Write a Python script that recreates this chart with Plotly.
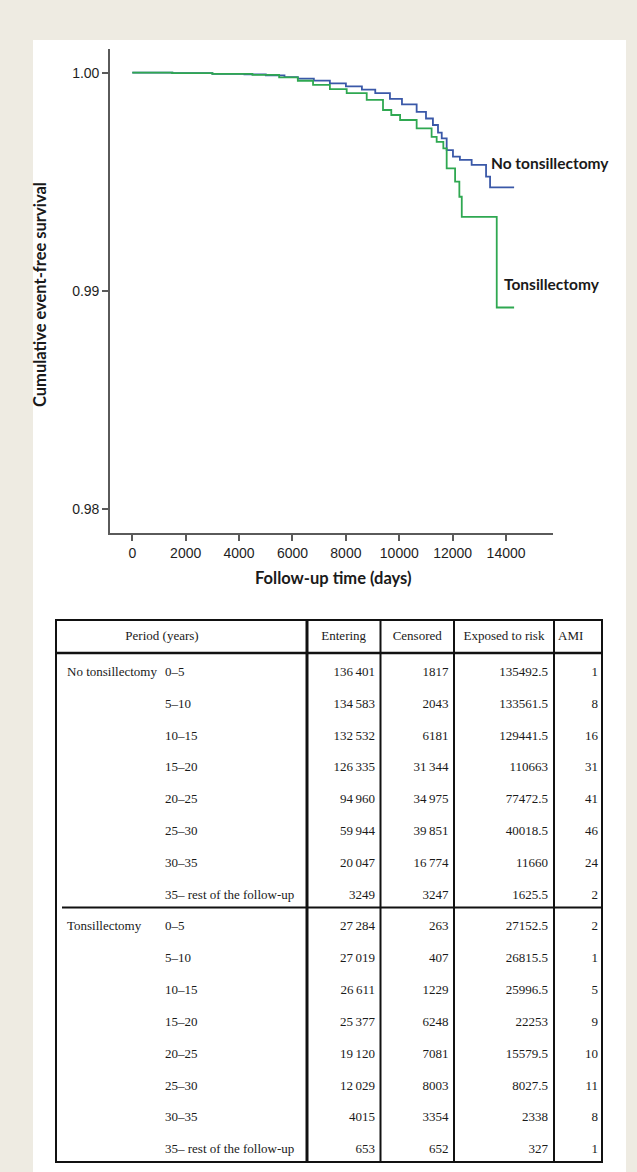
import plotly.graph_objects as go

# ---------------- Kaplan-Meier data ----------------
no_tons_days = [0, 1500, 3000, 4200, 5000, 5700, 6200, 6800, 7400, 8000, 8600, 9100, 9650,
                10100, 10650, 11000, 11260, 11450, 11590, 11775, 12010, 12270, 12710, 13250,
                13400, 14300]
no_tons_surv = [1.0, 0.99998, 0.99995, 0.99992, 0.99988, 0.99980, 0.99973, 0.99964, 0.99951,
                0.99937, 0.99922, 0.99906, 0.99880, 0.99855, 0.99820, 0.99790, 0.99760, 0.99725,
                0.99699, 0.99645, 0.99615, 0.99600, 0.99577, 0.99523, 0.99474, 0.99474]

tons_days = [0, 1500, 3000, 4500, 5500, 6200, 6770, 7400, 8030, 8780, 9390, 9700, 10030,
             10650, 11210, 11400, 11650, 11775, 12090, 12250, 12340, 13650, 14300]
tons_surv = [1.0, 0.99998, 0.99995, 0.99990, 0.99979, 0.99963, 0.99944, 0.99925, 0.99906,
             0.99875, 0.99829, 0.99806, 0.99783, 0.99745, 0.99706, 0.99683, 0.99653, 0.99561,
             0.99500, 0.99431, 0.99339, 0.98923, 0.98923]

x_ticks = [0, 2000, 4000, 6000, 8000, 10000, 12000, 14000]
x_ticklabels = ["0", "2000", "4000", "6000", "8000", "10000", "12000", "14000"]
y_ticks = [0.98, 0.99, 1.00]
y_ticklabels = ["0.98", "0.99", "1.00"]

# ---------------- Table data ----------------
groups = ["No tonsillectomy", "Tonsillectomy"]
periods = ["0\u20135", "5\u201310", "10\u201315", "15\u201320", "20\u201325", "25\u201330",
           "30\u201335", "35\u2013 rest of the follow-up"]
headers = ["Period (years)", "Entering", "Censored", "Exposed to risk", "AMI"]

entering_no = [136401, 134583, 132532, 126335, 94960, 59944, 20047, 3249]
censored_no = [1817, 2043, 6181, 31344, 34975, 39851, 16774, 3247]
exposed_no = [135492.5, 133561.5, 129441.5, 110663, 77472.5, 40018.5, 11660, 1625.5]
ami_no = [1, 8, 16, 31, 41, 46, 24, 2]

entering_t = [27284, 27019, 26611, 25377, 19120, 12029, 4015, 653]
censored_t = [263, 407, 1229, 6248, 7081, 8003, 3354, 652]
exposed_t = [27152.5, 26815.5, 25996.5, 22253, 15579.5, 8027.5, 2338, 327]
ami_t = [2, 1, 5, 9, 10, 11, 8, 1]


def fmt_count(n):
    return f"{n:,}".replace(",", "\u2009") if n >= 10000 else str(n)


def fmt_exposed(v):
    return str(int(v)) if float(v).is_integer() else f"{v:.1f}"


W, H = 637, 1172
BLUE = "#3A58A8"
GREEN = "#2FA851"
AXIS = "#5a5a5a"

fig = go.Figure()

fig.add_trace(go.Scatter(x=no_tons_days, y=no_tons_surv, mode="lines",
                         line=dict(shape="hv", color=BLUE, width=1.8),
                         showlegend=False, hoverinfo="skip"))
fig.add_trace(go.Scatter(x=tons_days, y=tons_surv, mode="lines",
                         line=dict(shape="hv", color=GREEN, width=1.8),
                         showlegend=False, hoverinfo="skip"))

# ---------------- Table drawn on an overlay pixel-like axis ----------------
L, R = 56, 602
T, HB, B = 620, 653, 1162
col_seps = [307, 380.5, 454, 554]
n_rows = len(periods) * 2
row_h = (B - HB) / n_rows
row_y = [HB + (0.62 + i) * row_h for i in range(n_rows)]
group_sep = HB + len(periods) * row_h
head_y = (T + HB) / 2

serif = dict(family="Liberation Serif, Times New Roman, serif", size=13, color="#1a1a1a")

fig.add_trace(go.Scatter(
    x=[162, 343.7, 417.2, 504], y=[head_y] * 4, text=headers[:4], mode="text",
    textposition="middle center", textfont=serif, xaxis="x2", yaxis="y2",
    showlegend=False, hoverinfo="skip"))
fig.add_trace(go.Scatter(
    x=[558], y=[head_y], text=[headers[4]], mode="text",
    textposition="middle right", textfont=serif, xaxis="x2", yaxis="y2",
    showlegend=False, hoverinfo="skip"))

fig.add_trace(go.Scatter(
    x=[67, 67], y=[row_y[0], row_y[len(periods)]], text=groups, mode="text",
    textposition="middle right", textfont=serif, xaxis="x2", yaxis="y2",
    showlegend=False, hoverinfo="skip"))
fig.add_trace(go.Scatter(
    x=[165] * n_rows, y=row_y, text=periods + periods, mode="text",
    textposition="middle right", textfont=serif, xaxis="x2", yaxis="y2",
    showlegend=False, hoverinfo="skip"))

num_cols = [
    ([fmt_count(v) for v in entering_no + entering_t], 375),
    ([fmt_count(v) for v in censored_no + censored_t], 448.5),
    ([fmt_exposed(v) for v in exposed_no + exposed_t], 548),
    ([str(v) for v in ami_no + ami_t], 598),
]
for texts, xr in num_cols:
    fig.add_trace(go.Scatter(
        x=[xr] * n_rows, y=row_y, text=texts, mode="text",
        textposition="middle left", textfont=serif, xaxis="x2", yaxis="y2",
        showlegend=False, hoverinfo="skip"))

shapes = [
    dict(type="rect", xref="paper", yref="paper", x0=33 / W, x1=626 / W, y0=0, y1=1 - 40 / H,
         fillcolor="white", line=dict(width=0), layer="below"),
    dict(type="rect", xref="x2", yref="y2", x0=L, x1=R, y0=T, y1=B,
         line=dict(color="#111", width=2), layer="above"),
    dict(type="line", xref="x2", yref="y2", x0=L, x1=R, y0=HB, y1=HB,
         line=dict(color="#111", width=2.5), layer="above"),
    dict(type="line", xref="x2", yref="y2", x0=L + 6, x1=R, y0=group_sep, y1=group_sep,
         line=dict(color="#111", width=2), layer="above"),
]
for i, cx in enumerate(col_seps):
    shapes.append(dict(type="line", xref="x2", yref="y2", x0=cx, x1=cx, y0=T, y1=B,
                       line=dict(color="#111", width=3 if i == 0 else 2), layer="above"))

bold = dict(family="Lato, Open Sans, sans-serif", size=16.5, color="#1a1a1a", weight="bold")
label_font = dict(family="Lato, Open Sans, sans-serif", size=15.5, color="#1a1a1a",
                  weight="bold")
annotations = [
    dict(text="Cumulative event-free survival", xref="paper", yref="paper",
         x=40 / W, y=1 - 295 / H, textangle=-90, showarrow=False,
         xanchor="center", yanchor="middle", font=bold),
    dict(text="Follow-up time (days)", xref="paper", yref="paper",
         x=333 / W, y=1 - 578 / H, showarrow=False, xanchor="center", yanchor="middle",
         font=bold),
    dict(text="No tonsillectomy", xref="x", yref="y", x=13360, y=0.99586,
         showarrow=False, xanchor="left", yanchor="middle", font=label_font),
    dict(text="Tonsillectomy", xref="x", yref="y", x=13846, y=0.99031,
         showarrow=False, xanchor="left", yanchor="middle", font=label_font),
]

tickfont = dict(family="Liberation Sans, Arial, sans-serif", size=14, color="#1e1e1e")

fig.update_layout(
    width=W, height=H,
    margin=dict(l=0, r=0, t=0, b=0),
    paper_bgcolor="#EEEBE2",
    plot_bgcolor="rgba(0,0,0,0)",
    showlegend=False,
    shapes=shapes,
    annotations=annotations,
    xaxis=dict(domain=[110 / W, 553 / W], range=[-835, 15757], tickvals=x_ticks,
               ticktext=x_ticklabels,
               showline=True, linecolor=AXIS, linewidth=1.6, ticks="outside", ticklen=6,
               tickwidth=1.6, tickcolor=AXIS, showgrid=False, zeroline=False,
               tickfont=tickfont, anchor="y", fixedrange=True),
    yaxis=dict(domain=[1 - 533.3 / H, 1 - 49 / H], range=[0.978872, 1.001087],
               tickvals=y_ticks, ticktext=y_ticklabels,
               showline=True, linecolor=AXIS, linewidth=1.6, ticks="outside", ticklen=6,
               tickwidth=1.6, tickcolor=AXIS, showgrid=False, zeroline=False,
               tickfont=tickfont, anchor="x", fixedrange=True),
    xaxis2=dict(domain=[0, 1], range=[0, W], visible=False, anchor="y2", fixedrange=True),
    yaxis2=dict(domain=[0, 1], range=[H, 0], visible=False, anchor="x2", fixedrange=True),
)

fig.write_html("out.html", config={"displayModeBar": False},
               post_script="document.body.style.margin='0';document.body.style.overflow='hidden';")
